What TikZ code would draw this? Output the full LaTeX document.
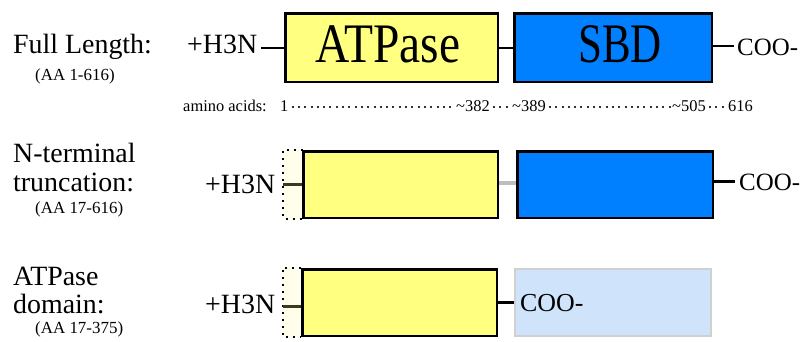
\documentclass[tikz,border=0pt]{standalone}
\usepackage{fontspec}
\setmainfont{Liberation Serif}
\definecolor{yel}{HTML}{FFFF80}
\definecolor{blu}{HTML}{0080FF}
\definecolor{lblu}{HTML}{CFE4FA}
\definecolor{lgray}{HTML}{D0D0D0}
\definecolor{pale}{HTML}{FFFEEA}
\definecolor{olive}{HTML}{3A3A20}
\definecolor{cgray}{HTML}{BDBDBD}
\tikzset{
  lab/.style={font=\fontsize{28}{30}\selectfont, anchor=base west, inner sep=0pt},
  coo/.style={font=\fontsize{25}{27}\selectfont, anchor=base west, inner sep=0pt},
  small/.style={font=\fontsize{17}{19}\selectfont, anchor=base west, inner sep=0pt},
  tiny/.style={font=\fontsize{16.5}{18}\selectfont, anchor=base west, inner sep=0pt},
  boxbase/.style={draw, line width=2.5bp, inner sep=0pt},
  ybox/.style={boxbase, fill=yel},
  bbox/.style={boxbase, fill=blu},
  lbox/.style={draw=lgray, line width=2bp, fill=lblu, inner sep=0pt},
  dbox/.style={fill=pale, inner sep=0pt},
  conn/.style={line width=2.2bp},
  dots/.style={line width=2bp, dash pattern=on 2bp off 5bp},
  lead/.style={line width=2bp, dash pattern=on 2bp off 4.3bp, black!80},
  big/.style={font=\fontsize{56}{58}\selectfont, inner sep=0pt, anchor=base}
}
\begin{document}
\begin{tikzpicture}[x=1bp,y=-1bp]
\useasboundingbox (0,0) rectangle (806,341);
\fill[white] (0,0) rectangle (806,341);

% ---------- Row 1 ----------
\node[lab] (fl) at (13,53) {Full Length:};
\node[small] (aa1) at (35,80) {(AA 1-616)};
\node[lab] (h1) at (187,53) {+H3N};
\node[ybox, minimum width=212.5bp, minimum height=68.5bp] (a1) at (391.75,47.75) {};
\node[bbox, minimum width=197.5bp, minimum height=68.5bp] (b1) at (613.25,47.75) {};
\node[big] (t1) at (388,62) {\scalebox{0.85}[1]{ATPase}};
\node[big] (t2) at (620,62) {\scalebox{0.77}[1]{SBD}};
\node[coo] (c1) at (737,55) {COO-};
\draw[conn] (a1.west) -- ([xshift=4bp]a1.west -| h1.east);
\draw[conn] (a1.east) -- (b1.west);
\draw[conn] ([yshift=1.5bp]b1.east) -- ([xshift=-3bp,yshift=1.5bp]b1.east -| c1.west);

% amino acid scale
\node[tiny] (am) at (183,111) {amino acids:};
\node[tiny] (n1) at (280,111) {1};
\node[tiny] (n382) at (456,111) {\textasciitilde382};
\node[tiny] (n389) at (512,111) {\textasciitilde389};
\node[tiny] (n505) at (672,111) {\textasciitilde505};
\node[tiny] (n616) at (728,111) {616};
\draw[lead] ([xshift=3bp,yshift=4bp]n1.base east) -- ([xshift=-1bp,yshift=4bp]n382.base west);
\draw[lead] ([xshift=3bp,yshift=4bp]n382.base east) -- ([xshift=-1bp,yshift=4bp]n389.base west);
\draw[lead] ([xshift=3bp,yshift=4bp]n389.base east) -- ([xshift=-1bp,yshift=4bp]n505.base west);
\draw[lead] ([xshift=3bp,yshift=4bp]n505.base east) -- ([xshift=-1bp,yshift=4bp]n616.base west);

% ---------- Row 2 ----------
\node[lab] (nt1) at (13,162) {N-terminal};
\node[lab] (nt2) at (13,191) {truncation:};
\node[small] (aa2) at (35,213) {(AA 17-616)};
\node[lab] (h2) at (205,193) {+H3N};
\node[dbox, minimum width=19bp, minimum height=69bp] (d2) at (293,184.5) {};
\draw[dots] (d2.north east) -- (d2.north west) -- (d2.south west) -- (d2.south east);
\node[ybox, minimum width=194.5bp, minimum height=66.5bp] (a2) at (400.5,184.5) {};
\node[bbox, minimum width=195.5bp, minimum height=66.5bp] (b2) at (615,184.5) {};
\node[coo] (c2) at (739,190) {COO-};
\draw[conn, olive] (d2.west) -- (a2.west);
\draw[line width=3.5bp, cgray] ([yshift=1.5bp]a2.east) -- ([yshift=1.5bp]b2.west);
\draw[line width=3bp] ([yshift=3.5bp]b2.east) -- ([xshift=-4bp,yshift=3.5bp]b2.east -| c2.west);

% ---------- Row 3 ----------
\node[lab] (ad1) at (13,285) {ATPase};
\node[lab] (ad2) at (13,313) {domain:};
\node[small] (aa3) at (35,333) {(AA 17-375)};
\node[lab] (h3) at (205,313) {+H3N};
\node[dbox, minimum width=18bp, minimum height=69bp] (d3) at (292,302.5) {};
\draw[dots] (d3.north east) -- (d3.north west) -- (d3.south west) -- (d3.south east);
\node[ybox, minimum width=194.5bp, minimum height=66.5bp] (a3) at (399.5,302.5) {};
\node[lbox, minimum width=196bp, minimum height=67bp] (lb3) at (613,302.5) {};
\node[coo, font=\fontsize{26}{28}\selectfont] (c3) at (520,311) {COO-};
\draw[line width=3bp, olive] ([yshift=-3.5bp]d3.west) -- ([yshift=-3.5bp]a3.west);
\draw[conn] (a3.east) -- (lb3.west);
\end{tikzpicture}
\end{document}
